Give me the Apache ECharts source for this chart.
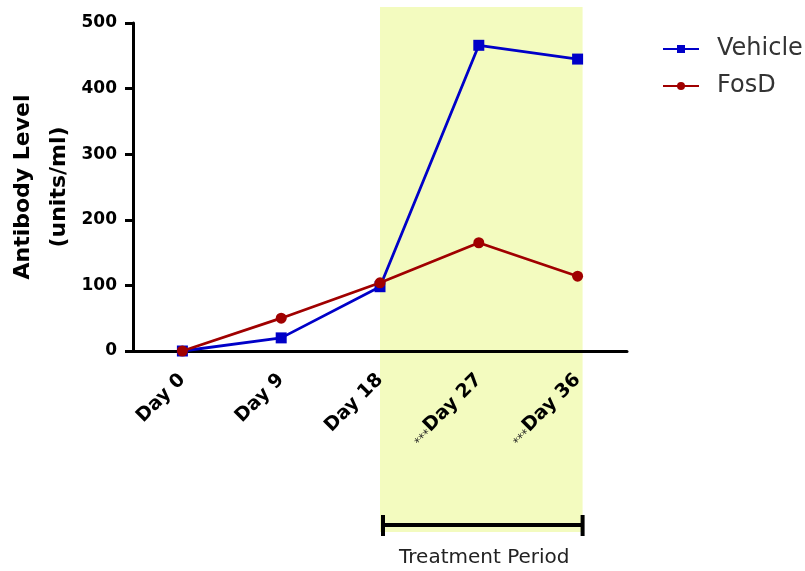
<!DOCTYPE html>
<html>
<head>
<meta charset="utf-8">
<script src="https://cdn.jsdelivr.net/npm/echarts@6/dist/echarts.min.js"></script>
<style>
  html, body { margin: 0; padding: 0; background: #fff; }
  #chart { width: 805px; height: 571px; }
</style>
</head>
<body>
<div id="chart"></div>
<script>
// Time points and antibody levels (units/ml)
const days = ['Day 0', 'Day 9', 'Day 18', 'Day 27', 'Day 36'];
const significant = [false, false, false, true, true];
const vehicle = [0, 20, 98, 466, 445];
const fosD = [0, 50, 104, 165, 114];
const yTicks = [0, 100, 200, 300, 400, 500];
const treatmentStart = 'Day 18';
const treatmentEnd = 'Day 36';

const FONT = '"DejaVu Sans", "Liberation Sans", Arial, sans-serif';
const chart = echarts.init(document.getElementById('chart'));

const option = {
  animation: false,
  grid: {
    left: 133, top: 23, right: 178, bottom: 220,
    containLabel: false,
    outerBoundsMode: 'none'
  },
  legend: {
    orient: 'vertical',
    left: 657,
    top: 32,
    itemWidth: 36,
    itemHeight: 10,
    itemGap: 13,
    textStyle: { fontFamily: FONT, fontSize: 24, color: '#333', padding: [0, 0, 0, 13] },
    data: ['Vehicle', 'FosD']
  },
  xAxis: {
    type: 'category',
    data: days,
    boundaryGap: true,
    axisLine: { lineStyle: { color: '#000', width: 3 } },
    axisTick: { alignWithLabel: true, length: 8, lineStyle: { color: '#000', width: 3 } },
    axisLabel: {
      rotate: 45,
      margin: 26,
      interval: 0,
      formatter: function (v, i) {
        return (significant[i] ? '{s|***}' : '') + '{b|' + v + '}';
      },
      rich: {
        b: { fontFamily: FONT, fontSize: 19, fontWeight: 'bold', color: '#000' },
        s: { fontFamily: FONT, fontSize: 12, color: '#222', padding: [8, 0, 0, 0] }
      }
    },
    z: 5
  },
  yAxis: {
    type: 'value',
    min: yTicks[0],
    max: yTicks[yTicks.length - 1],
    interval: 100,
    name: 'Antibody Level\n(units/ml)',
    nameLocation: 'middle',
    nameGap: 56,
    nameMoveOverlap: false,
    nameRotate: 90,
    nameTextStyle: { fontFamily: FONT, fontSize: 22, fontWeight: 'bold', color: '#000', lineHeight: 36 },
    splitLine: { show: false },
    axisLine: { show: true, lineStyle: { color: '#000', width: 3 } },
    axisTick: { show: true, length: 8, lineStyle: { color: '#000', width: 3 } },
    axisLabel: { fontFamily: FONT, fontSize: 17, fontWeight: 'bold', color: '#000', margin: 16 },
    z: 5
  },
  series: [
    {
      name: 'Vehicle',
      type: 'line',
      data: vehicle,
      symbol: 'rect',
      symbolSize: 11,
      color: '#0000c8',
      lineStyle: { width: 2.8, color: '#0000c8' },
      itemStyle: { color: '#0000c8' },
      z: 10
    },
    {
      name: 'FosD',
      type: 'line',
      data: fosD,
      symbol: 'circle',
      symbolSize: 11,
      color: '#a00000',
      lineStyle: { width: 2.8, color: '#a00000' },
      itemStyle: { color: '#a00000' },
      z: 11
    }
  ]
};
chart.setOption(option);

// Shaded treatment window and bracket, placed from the category axis
const x0 = chart.convertToPixel({ xAxisIndex: 0 }, treatmentStart);
const x1 = chart.convertToPixel({ xAxisIndex: 0 }, treatmentEnd) + 5;
const barY = 525;
chart.setOption({
  graphic: {
    elements: [
      {
        type: 'rect',
        z: -100,
        silent: true,
        shape: { x: x0, y: 7, width: x1 - x0, height: 525 },
        style: { fill: '#f3fbbf' }
      },
      {
        type: 'line',
        shape: { x1: x0 + 3, y1: barY, x2: x1, y2: barY },
        style: { stroke: '#000', lineWidth: 4 }
      },
      {
        type: 'line',
        shape: { x1: x0 + 3, y1: barY - 10, x2: x0 + 3, y2: barY + 11 },
        style: { stroke: '#000', lineWidth: 4 }
      },
      {
        type: 'line',
        shape: { x1: x1, y1: barY - 10, x2: x1, y2: barY + 11 },
        style: { stroke: '#000', lineWidth: 4 }
      },
      {
        type: 'text',
        x: (x0 + x1) / 2 + 3,
        y: 558,
        style: {
          text: 'Treatment Period',
          fontFamily: FONT,
          fontSize: 20,
          fill: '#222',
          align: 'center',
          verticalAlign: 'middle'
        }
      }
    ]
  }
});
</script>
</body>
</html>
